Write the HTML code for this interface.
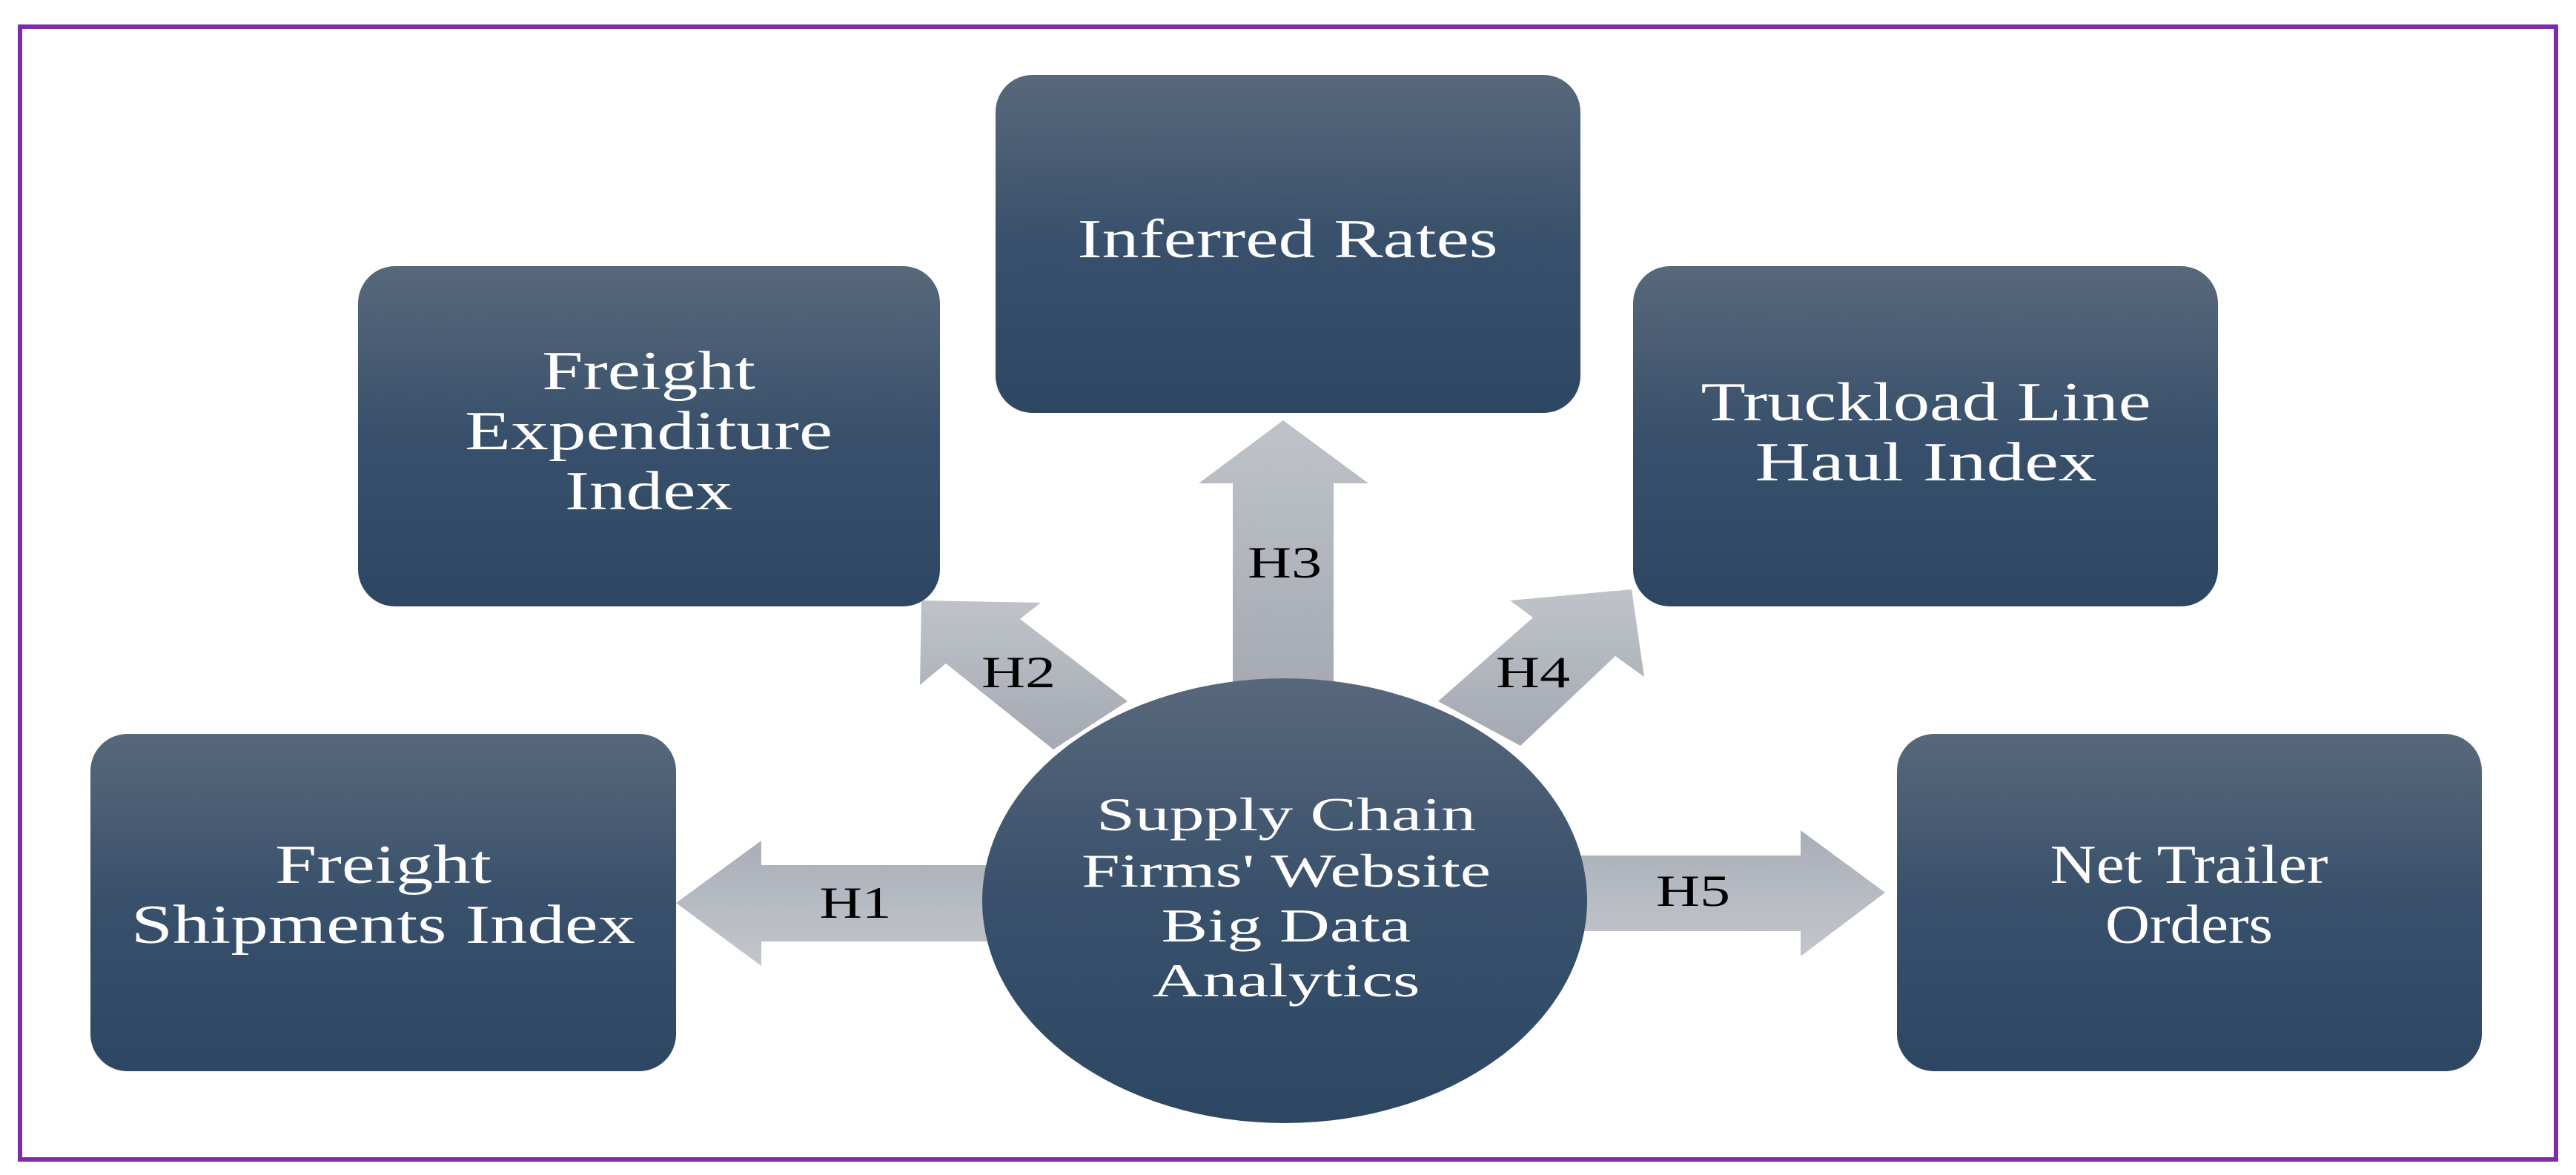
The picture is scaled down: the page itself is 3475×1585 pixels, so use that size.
<!DOCTYPE html>
<html><head><meta charset="utf-8"><style>
html,body{margin:0;padding:0;background:#fff;}
body{width:3475px;height:1580px;overflow:hidden;}
</style></head><body>
<svg width="3475" height="1580" viewBox="0 0 3475 1580" xmlns="http://www.w3.org/2000/svg">
<defs>
<linearGradient id="bg" x1="0" y1="0" x2="0" y2="1">
<stop offset="0" stop-color="#58687b"/><stop offset="0.5" stop-color="#38506b"/><stop offset="1" stop-color="#2d4763"/>
</linearGradient>
<linearGradient id="ag" x1="0" y1="0" x2="0" y2="1">
<stop offset="0" stop-color="#a9aeb7"/><stop offset="1" stop-color="#c3c6cc"/>
</linearGradient>
<linearGradient id="agv" x1="0" y1="0" x2="0" y2="1">
<stop offset="0" stop-color="#bfc3c9"/><stop offset="1" stop-color="#a4a9b2"/>
</linearGradient>
</defs>
<rect x="27" y="36" width="3421" height="1528" fill="#fff" stroke="#7f2da6" stroke-width="6"/>

<polygon points="1340,1167 1027,1167 1027,1134 912,1218 1027,1303 1027,1270 1340,1270" fill="url(#ag)"/>
<polygon points="2120,1154 2429,1154 2429,1120 2543,1204 2429,1290 2429,1256 2120,1256" fill="url(#ag)"/>
<polygon points="1663,940 1663,652 1617,652 1731,567 1846,652 1799,652 1799,940" fill="url(#agv)"/>
<polygon points="1421,1011 1276,895 1241,924 1243,810 1404,813 1376,835 1521,946" fill="url(#agv)"/>
<polygon points="1940,946 2068,833 2037,810 2201,795 2218,913 2179,885 2051,1006" fill="url(#agv)"/>

<rect x="1343" y="101" width="789" height="456" rx="50" fill="url(#bg)"/>
<rect x="483" y="359" width="785" height="459" rx="50" fill="url(#bg)"/>
<rect x="2203" y="359" width="789" height="459" rx="50" fill="url(#bg)"/>
<rect x="122" y="990" width="790" height="455" rx="50" fill="url(#bg)"/>
<rect x="2559" y="990" width="789" height="455" rx="50" fill="url(#bg)"/>
<ellipse cx="1733" cy="1215" rx="408" ry="300" fill="url(#bg)"/>

<g font-family="Liberation Serif, serif" fill="#fff" text-anchor="middle" font-size="74" lengthAdjust="spacingAndGlyphs">
<text x="1737" y="347" textLength="567" lengthAdjust="spacingAndGlyphs">Inferred Rates</text>
<text x="875" y="525" textLength="288" lengthAdjust="spacingAndGlyphs">Freight</text>
<text x="875" y="606" textLength="496" lengthAdjust="spacingAndGlyphs">Expenditure</text>
<text x="875" y="687" textLength="226" lengthAdjust="spacingAndGlyphs">Index</text>
<text x="2598" y="567" textLength="607" lengthAdjust="spacingAndGlyphs">Truckload Line</text>
<text x="2598" y="648" textLength="461" lengthAdjust="spacingAndGlyphs">Haul Index</text>
<text x="517" y="1191" textLength="292" lengthAdjust="spacingAndGlyphs">Freight</text>
<text x="517" y="1272" textLength="680" lengthAdjust="spacingAndGlyphs">Shipments Index</text>
<text x="2953" y="1191" textLength="375" lengthAdjust="spacingAndGlyphs">Net Trailer</text>
<text x="2953" y="1272" textLength="226" lengthAdjust="spacingAndGlyphs">Orders</text>
</g>
<g font-family="Liberation Serif, serif" fill="#fff" text-anchor="middle" font-size="64">
<text x="1735" y="1120" textLength="512" lengthAdjust="spacingAndGlyphs">Supply Chain</text>
<text x="1735" y="1196" textLength="552" lengthAdjust="spacingAndGlyphs">Firms' Website</text>
<text x="1735" y="1270" textLength="337" lengthAdjust="spacingAndGlyphs">Big Data</text>
<text x="1735" y="1344" textLength="361" lengthAdjust="spacingAndGlyphs">Analytics</text>
</g>
<g font-family="Liberation Serif, serif" fill="#000" text-anchor="middle" font-size="60">
<text x="1154" y="1238" textLength="97" lengthAdjust="spacingAndGlyphs">H1</text>
<text x="1374" y="927" textLength="100" lengthAdjust="spacingAndGlyphs">H2</text>
<text x="1733" y="779" textLength="100" lengthAdjust="spacingAndGlyphs">H3</text>
<text x="2068" y="927" textLength="100" lengthAdjust="spacingAndGlyphs">H4</text>
<text x="2284" y="1222" textLength="100" lengthAdjust="spacingAndGlyphs">H5</text>
</g>
</svg>
</body></html>
